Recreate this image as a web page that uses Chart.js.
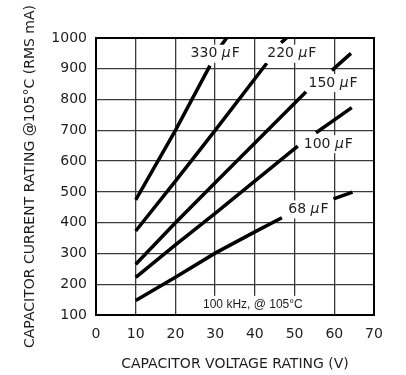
<!DOCTYPE html>
<html><head><meta charset="utf-8">
<script src="https://cdn.jsdelivr.net/npm/chart.js@4/dist/chart.umd.min.js"></script>
<style>html,body{margin:0;padding:0;background:#fff}</style>
</head><body>
<canvas id="c" width="406" height="375" style="width:406px;height:375px;display:block"></canvas>
<script>
// ---- data ----
const capacitances = ['330', '220', '150', '100', '68'];
// voltage (V) and current (mA); null marks the gap left for the curve label
const volts330 = [10, 20, 28.7, 30, 31.3, 32.9];
const amps330  = [474, 700, 910, null, 972, 1000];
const volts220 = [10, 20, 30, 43, 45, 46.6, 48.0];
const amps220  = [373, 535, 700, 918, null, 985, 1000];
const volts150 = [10, 20, 30, 52.9, 56, 59.4, 64.2];
const amps150  = [265, 400, 530, 825, null, 895, 950];
const volts100 = [10, 20, 30, 50.8, 53, 55.4, 64.4];
const amps100  = [222, 328, 430, 649, null, 692, 774];
const volts68  = [10, 20, 30, 40, 46.8, 53, 59.8, 64.6];
const amps68   = [147, 223, 301, 370, 416, null, 477, 499];
// label anchors (data units)
const labelVolts = [30, 49.3, 59.7, 58.5, 53.5];
const labelAmps  = [949, 949, 854, 655, 443];
const noteText = '100 kHz, @ 105°C';
const noteVolt = 39.5, noteAmp = 133;
const xTitle = 'CAPACITOR VOLTAGE RATING (V)';
const yTitle = 'CAPACITOR CURRENT RATING @105°C (RMS mA)';

const series = [[volts330, amps330],[volts220, amps220],[volts150, amps150],[volts100, amps100],[volts68, amps68]];
const FONT = '"DejaVu Sans", sans-serif';
const TXT = '#1e1e1e';

const datasets = series.map((s, i) => ({
  label: capacitances[i] + ' µF',
  data: s[0].map((v, k) => ({x: v, y: s[1][k]})),
  borderColor: '#000',
  borderWidth: 3.5,
  pointRadius: 0,
  tension: 0,
  spanGaps: false,
  fill: false
}));

const annot = {
  id: 'annot',
  afterDraw(chart) {
    const {ctx, scales: {x, y}, chartArea: a} = chart;
    ctx.save();
    ctx.textBaseline = 'middle';
    capacitances.forEach((c, i) => {
      const px = x.getPixelForValue(labelVolts[i]);
      const py = y.getPixelForValue(labelAmps[i]);
      const regular = '14px ' + FONT, ital = 'italic 14px ' + FONT;
      ctx.font = regular;
      const w1 = ctx.measureText(c + ' ').width;
      const w3 = ctx.measureText('F').width;
      ctx.font = ital;
      const w2 = ctx.measureText('μ').width + 1;
      const w = w1 + w2 + w3;
      const left = px - w / 2;
      ctx.fillStyle = '#fff';
      ctx.fillRect(left - 3, py - 9, w + 6, 18);
      ctx.fillStyle = TXT;
      ctx.textAlign = 'left';
      ctx.font = regular; ctx.fillText(c + ' ', left, py);
      ctx.font = ital; ctx.fillText('μ', left + w1, py);
      ctx.font = regular; ctx.fillText('F', left + w1 + w2, py);
    });
    const nx = x.getPixelForValue(noteVolt), ny = y.getPixelForValue(noteAmp);
    ctx.font = '12px "Liberation Sans", Arial, sans-serif';
    const nw = ctx.measureText(noteText).width;
    ctx.fillStyle = '#fff';
    ctx.fillRect(nx - nw / 2 - 3, ny - 9, nw + 6, a.bottom - ny + 9);
    ctx.fillStyle = TXT;
    ctx.textAlign = 'center';
    ctx.fillText(noteText, nx, ny);
    ctx.strokeStyle = '#000';
    ctx.lineWidth = 2;
    ctx.strokeRect(a.left, a.top, a.right - a.left, a.bottom - a.top);
    ctx.restore();
  }
};

new Chart(document.getElementById('c'), {
  type: 'line',
  data: {datasets},
  options: {
    responsive: false,
    devicePixelRatio: 1,
    animation: false,
    events: [],
    layout: {padding: {top: 38, right: 32, left: 0, bottom: 0}},
    plugins: {legend: {display: false}, tooltip: {enabled: false}, title: {display: false}},
    scales: {
      x: {
        type: 'linear', min: 0, max: 70,
        ticks: {stepSize: 10, color: TXT, font: {family: FONT, size: 14}, padding: 11, maxRotation: 0,
                callback: v => String(v)},
        grid: {color: '#3a3a3a', lineWidth: 1.3, drawTicks: false},
        border: {display: true, color: '#000', width: 2},
        title: {display: true, text: xTitle, color: TXT, font: {family: FONT, size: 14}, padding: {top: 0, bottom: 2}},
        afterFit: s => { s.height = 60; }
      },
      y: {
        type: 'linear', min: 100, max: 1000,
        ticks: {stepSize: 100, color: TXT, font: {family: FONT, size: 14}, padding: 9,
                callback: v => String(v)},
        grid: {color: '#3a3a3a', lineWidth: 1.3, drawTicks: false},
        border: {display: true, color: '#000', width: 2},
        title: {display: true, text: yTitle, color: TXT, font: {family: FONT, size: 14}, padding: {top: 22, bottom: 0}},
        afterFit: s => { s.width = 96; }
      }
    }
  },
  plugins: [annot]
});
</script>
</body></html>
